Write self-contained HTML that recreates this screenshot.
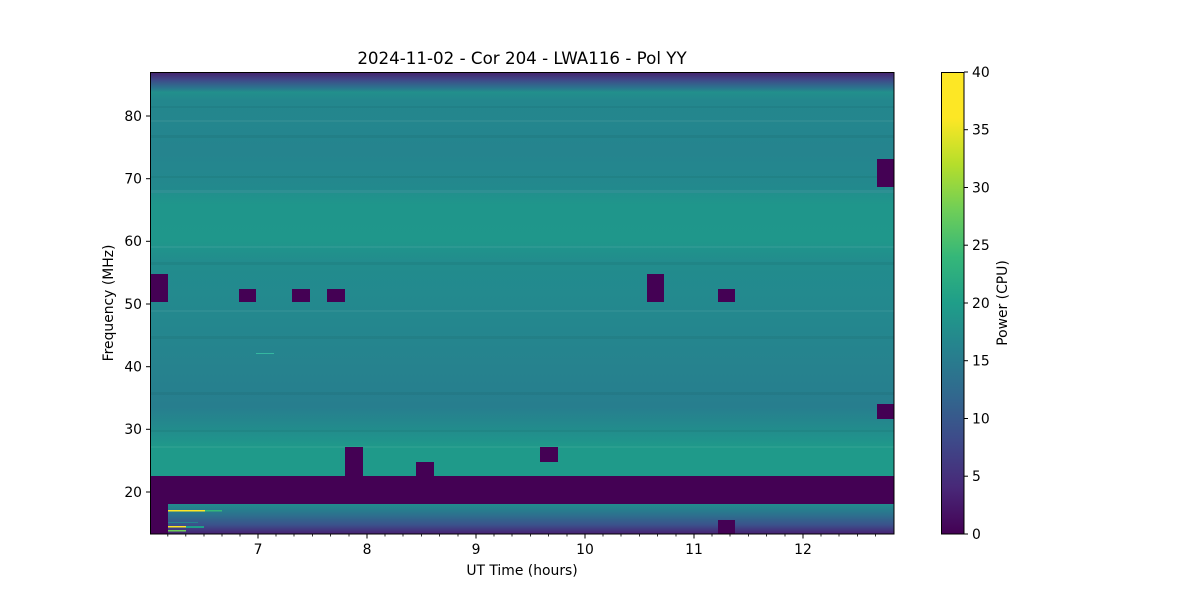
<!DOCTYPE html>
<html><head><meta charset="utf-8"><style>
html,body{margin:0;padding:0;background:#fff;}
svg{display:block;font-family:"DejaVu Sans","Liberation Sans",sans-serif;}
</style></head><body>
<svg width="1200" height="600" viewBox="0 0 1200 600" xmlns="http://www.w3.org/2000/svg">
<defs>
<linearGradient id="main" x1="0" y1="72" x2="0" y2="476" gradientUnits="userSpaceOnUse">
<stop offset="0" stop-color="#46206c"/>
<stop offset="0.02" stop-color="#3e4a89"/>
<stop offset="0.04" stop-color="#2a768e"/>
<stop offset="0.05" stop-color="#22908c"/>
<stop offset="0.07" stop-color="#23878d"/>
<stop offset="0.2" stop-color="#25848e"/>
<stop offset="0.3" stop-color="#228a8d"/>
<stop offset="0.3" stop-color="#21908c"/>
<stop offset="0.33" stop-color="#1f968b"/>
<stop offset="0.42" stop-color="#1f978b"/>
<stop offset="0.47" stop-color="#228c8d"/>
<stop offset="0.57" stop-color="#23898e"/>
<stop offset="0.67" stop-color="#25858e"/>
<stop offset="0.76" stop-color="#26818e"/>
<stop offset="0.83" stop-color="#277e8e"/>
<stop offset="0.9" stop-color="#21908c"/>
<stop offset="0.93" stop-color="#1f9a8a"/>
<stop offset="1" stop-color="#1f9a8a"/>
</linearGradient>
<linearGradient id="low" x1="0" y1="504" x2="0" y2="534" gradientUnits="userSpaceOnUse">
<stop offset="0" stop-color="#228c8d"/>
<stop offset="0.35" stop-color="#2c728e"/>
<stop offset="0.7" stop-color="#3b518b"/>
<stop offset="1" stop-color="#482173"/>
</linearGradient>
<linearGradient id="cb" x1="0" y1="534" x2="0" y2="72" gradientUnits="userSpaceOnUse">
<stop offset="0" stop-color="#440154"/>
<stop offset="0.1" stop-color="#482878"/>
<stop offset="0.2" stop-color="#3e4989"/>
<stop offset="0.3" stop-color="#31688e"/>
<stop offset="0.4" stop-color="#26828e"/>
<stop offset="0.5" stop-color="#1f9e89"/>
<stop offset="0.6" stop-color="#35b779"/>
<stop offset="0.7" stop-color="#6ece58"/>
<stop offset="0.8" stop-color="#b5de2b"/>
<stop offset="0.9" stop-color="#fde725"/>
<stop offset="1" stop-color="#fde725"/>
</linearGradient>
</defs>
<text x="522" y="64" font-size="16.7" text-anchor="middle">2024-11-02 - Cor 204 - LWA116 - Pol YY</text>
<rect x="150" y="72" width="744" height="404" fill="url(#main)"/>
<g fill="#000" opacity="0.04">
<rect x="150" y="106" width="744" height="2"/><rect x="150" y="135" width="744" height="3"/><rect x="150" y="176" width="744" height="2"/><rect x="150" y="262" width="744" height="3"/><rect x="150" y="336" width="744" height="3"/><rect x="150" y="392" width="744" height="3"/><rect x="150" y="430" width="744" height="2"/>
</g>
<g fill="#fff" opacity="0.05">
<rect x="150" y="120" width="744" height="2"/><rect x="150" y="190" width="744" height="3"/><rect x="150" y="246" width="744" height="2"/><rect x="150" y="310" width="744" height="2"/><rect x="150" y="446" width="744" height="2"/>
</g>
<rect x="150" y="476" width="744" height="28" fill="#440154"/>
<rect x="150" y="504" width="744" height="30" fill="url(#low)"/>
<rect x="150" y="476" width="18" height="58" fill="#440154"/>
<g>
<rect x="168" y="510" width="54" height="1.5" fill="#fde725"/>
<rect x="205" y="510" width="17" height="1.5" fill="#35b779"/>
<rect x="168" y="526" width="18" height="1.5" fill="#fde725"/>
<rect x="168" y="530" width="18" height="1.5" fill="#6ece58"/>
<rect x="186" y="526" width="18" height="2" fill="#1f9e89"/>
<rect x="168" y="522" width="30" height="1" fill="#26828e"/>
<rect x="256" y="353" width="18" height="1" fill="#35b7a0"/>
</g>
<g fill="#440154">
<rect x="150" y="274" width="18" height="28"/>
<rect x="239" y="289" width="17" height="13"/>
<rect x="292" y="289" width="18" height="13"/>
<rect x="327" y="289" width="18" height="13"/>
<rect x="647" y="274" width="17" height="28"/>
<rect x="718" y="289" width="17" height="13"/>
<rect x="877" y="159" width="17" height="28"/>
<rect x="877" y="404" width="17" height="15"/>
<rect x="345" y="447" width="18" height="29"/>
<rect x="416" y="462" width="18" height="14"/>
<rect x="540" y="447" width="18" height="15"/>
<rect x="718" y="520" width="17" height="14"/>
</g>
<rect x="150.5" y="72.5" width="743.5" height="461.5" fill="none" stroke="#000" stroke-width="1"/>
<g stroke="#000" stroke-width="1">
<line x1="258" y1="534" x2="258" y2="538.5"/><line x1="367" y1="534" x2="367" y2="538.5"/><line x1="476" y1="534" x2="476" y2="538.5"/><line x1="585" y1="534" x2="585" y2="538.5"/><line x1="694" y1="534" x2="694" y2="538.5"/><line x1="803" y1="534" x2="803" y2="538.5"/>
<line x1="150" y1="492" x2="146" y2="492"/><line x1="150" y1="429.3" x2="146" y2="429.3"/><line x1="150" y1="366.7" x2="146" y2="366.7"/><line x1="150" y1="304" x2="146" y2="304"/><line x1="150" y1="241.3" x2="146" y2="241.3"/><line x1="150" y1="178.7" x2="146" y2="178.7"/><line x1="150" y1="116" x2="146" y2="116"/>
</g>
<g stroke="#000" stroke-width="0.8">
<line x1="167.8" y1="534" x2="167.8" y2="536.5"/><line x1="185.8" y1="534" x2="185.8" y2="536.5"/><line x1="204" y1="534" x2="204" y2="536.5"/><line x1="222" y1="534" x2="222" y2="536.5"/><line x1="240" y1="534" x2="240" y2="536.5"/>
<line x1="276" y1="534" x2="276" y2="536.5"/><line x1="294" y1="534" x2="294" y2="536.5"/><line x1="312.5" y1="534" x2="312.5" y2="536.5"/><line x1="330.5" y1="534" x2="330.5" y2="536.5"/><line x1="349" y1="534" x2="349" y2="536.5"/>
<line x1="385" y1="534" x2="385" y2="536.5"/><line x1="403" y1="534" x2="403" y2="536.5"/><line x1="421.5" y1="534" x2="421.5" y2="536.5"/><line x1="439.5" y1="534" x2="439.5" y2="536.5"/><line x1="458" y1="534" x2="458" y2="536.5"/>
<line x1="494" y1="534" x2="494" y2="536.5"/><line x1="512" y1="534" x2="512" y2="536.5"/><line x1="530.5" y1="534" x2="530.5" y2="536.5"/><line x1="548.5" y1="534" x2="548.5" y2="536.5"/><line x1="567" y1="534" x2="567" y2="536.5"/>
<line x1="603" y1="534" x2="603" y2="536.5"/><line x1="621" y1="534" x2="621" y2="536.5"/><line x1="639.5" y1="534" x2="639.5" y2="536.5"/><line x1="657.5" y1="534" x2="657.5" y2="536.5"/><line x1="676" y1="534" x2="676" y2="536.5"/>
<line x1="712" y1="534" x2="712" y2="536.5"/><line x1="730" y1="534" x2="730" y2="536.5"/><line x1="748.5" y1="534" x2="748.5" y2="536.5"/><line x1="766.5" y1="534" x2="766.5" y2="536.5"/><line x1="785" y1="534" x2="785" y2="536.5"/>
<line x1="821" y1="534" x2="821" y2="536.5"/><line x1="839" y1="534" x2="839" y2="536.5"/><line x1="857.5" y1="534" x2="857.5" y2="536.5"/><line x1="875.5" y1="534" x2="875.5" y2="536.5"/>
</g>
<g font-size="13.9" text-anchor="middle">
<text x="258" y="554">7</text><text x="367" y="554">8</text><text x="476" y="554">9</text><text x="585" y="554">10</text><text x="694" y="554">11</text><text x="803" y="554">12</text>
<text x="522" y="575">UT Time (hours)</text>
</g>
<g font-size="13.9" text-anchor="end">
<text x="142" y="497">20</text><text x="142" y="434">30</text><text x="142" y="371.5">40</text><text x="142" y="309">50</text><text x="142" y="246">60</text><text x="142" y="183.5">70</text><text x="142" y="121">80</text>
</g>
<text transform="translate(113,303) rotate(-90)" font-size="13.9" text-anchor="middle">Frequency (MHz)</text>
<rect x="941" y="72" width="23" height="462" fill="url(#cb)"/>
<rect x="941.5" y="72.5" width="22.5" height="461.5" fill="none" stroke="#000" stroke-width="1"/>
<g stroke="#000" stroke-width="1">
<line x1="964" y1="534" x2="968" y2="534"/><line x1="964" y1="476.2" x2="968" y2="476.2"/><line x1="964" y1="418.5" x2="968" y2="418.5"/><line x1="964" y1="360.7" x2="968" y2="360.7"/><line x1="964" y1="303" x2="968" y2="303"/><line x1="964" y1="245.2" x2="968" y2="245.2"/><line x1="964" y1="187.5" x2="968" y2="187.5"/><line x1="964" y1="129.7" x2="968" y2="129.7"/><line x1="964" y1="72" x2="968" y2="72"/>
</g>
<g font-size="13.9">
<text x="972" y="539">0</text><text x="972" y="481">5</text><text x="972" y="423.5">10</text><text x="972" y="365.5">15</text><text x="972" y="308">20</text><text x="972" y="250">25</text><text x="972" y="192.5">30</text><text x="972" y="134.5">35</text><text x="972" y="77">40</text>
</g>
<text transform="translate(1007,303) rotate(-90)" font-size="13.9" text-anchor="middle">Power (CPU)</text>
</svg>
</body></html>
